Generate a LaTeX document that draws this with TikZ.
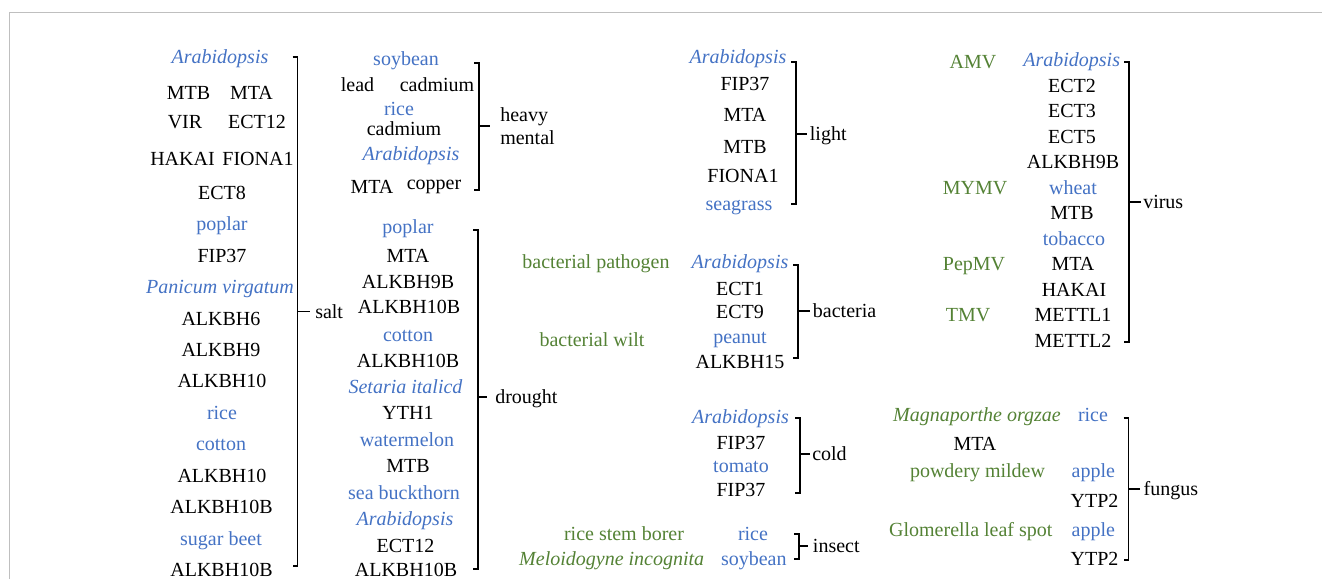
\documentclass[tikz,border=0pt]{standalone}
\usepackage{fontspec}
\setmainfont{Liberation Serif}
\newfontfamily\figserif{Liberation Serif}
\usepackage{tikz}
\definecolor{plantblue}{RGB}{68,114,196}
\definecolor{pathgreen}{RGB}{84,130,53}
\definecolor{framegray}{RGB}{191,191,191}

\begin{document}
\begin{tikzpicture}[x=0.75pt,y=-0.75pt,
    txt/.style={inner sep=0pt,font=\figserif\fontsize{15}{18}\selectfont},
    gene/.style={txt,text height=9.9pt,text depth=0pt},
    plant/.style={gene,text=plantblue},
    plantit/.style={plant,font=\figserif\fontsize{15}{18}\selectfont\itshape},
    pathogen/.style={gene,text=pathgreen},
    pathogenit/.style={pathogen,font=\figserif\fontsize{15}{18}\selectfont\itshape},
    stress/.style={gene,anchor=west,inner xsep=2pt},
    brk/.style={line width=1.4pt}]

    \useasboundingbox (0,0) rectangle (1322,579);
    \draw[framegray,line width=0.75pt] (9.5,579) |- (1322,12.5);

% salt
\node[plantit] (s1) at (220,57) {Arabidopsis};
\node[gene] (s2) at (188.5,93) {MTB};
\node[gene] (s3) at (251.5,93) {MTA};
\node[gene] (s4) at (185,122) {VIR};
\node[gene] (s5) at (257,122) {ECT12};
\node[gene] (s6) at (182.5,159) {HAKAI};
\node[gene] (s7) at (258,159) {FIONA1};
\node[gene] (s8) at (222,192.5) {ECT8};
\node[plant] (s9) at (222,223.5) {poplar};
\node[gene] (s10) at (222,256) {FIP37};
\node[plantit] (s11) at (220,287) {Panicum virgatum};
\node[gene] (s12) at (221,319) {ALKBH6};
\node[gene] (s13) at (221,350) {ALKBH9};
\node[gene] (s14) at (222,381) {ALKBH10};
\node[plant] (s15) at (222,413) {rice};
\node[plant] (s16) at (221,444) {cotton};
\node[gene] (s17) at (222,475.5) {ALKBH10};
\node[gene] (s18) at (221.5,507) {ALKBH10B};
\node[plant] (s19) at (221,538.5) {sugar beet};
\node[gene] (s20) at (221.5,569.5) {ALKBH10B};

\coordinate (salt-t) at (297.5,57);
\coordinate (salt-b) at (297.5,566);
\node[stress,inner xsep=3.75pt] (salt) at (310,311.5) {salt};
\draw[brk] ([xshift=-3.75pt]salt-t) -- (salt-t) -- (salt-b) -- ([xshift=-3.75pt]salt-b);
\draw[brk] (salt-t |- salt.west) -- (salt.west);

% heavy metal
\node[plant] (h1) at (406,58.5) {soybean};
\node[gene] (h2) at (357.5,85) {lead};
\node[gene] (h3) at (437,85) {cadmium};
\node[plant] (h4) at (399,108.5) {rice};
\node[gene] (h5) at (404,128.5) {cadmium};
\node[plantit] (h6) at (411,153.5) {Arabidopsis};
\node[gene] (h7) at (372,186.5) {MTA};
\node[gene] (h8) at (434,182.7) {copper};

\coordinate (metal-t) at (479,63);
\coordinate (metal-b) at (479,190);
\node[txt,anchor=west,inner xsep=7.5pt,align=left,font=\figserif\fontsize{15}{17.25}\selectfont] (metal) at (490,126) {heavy\\mental};
\draw[brk] ([xshift=-3.75pt]metal-t) -- (metal-t) -- (metal-b) -- ([xshift=-3.75pt]metal-b);
\draw[brk] (metal-t |- metal.west) -- (metal.west);

% drought
\node[plant] (d1) at (408,227) {poplar};
\node[gene] (d2) at (408,256) {MTA};
\node[gene] (d3) at (408,282) {ALKBH9B};
\node[gene] (d4) at (409,307) {ALKBH10B};
\node[plant] (d5) at (408,335) {cotton};
\node[gene] (d6) at (408,361) {ALKBH10B};
\node[plantit] (d7) at (405.5,387) {Setaria italicd};
\node[gene] (d8) at (408,413) {YTH1};
\node[plant] (d9) at (407,440) {watermelon};
\node[gene] (d10) at (408,466) {MTB};
\node[plant] (d11) at (404,493) {sea buckthorn};
\node[plantit] (d12) at (405,519) {Arabidopsis};
\node[gene] (d13) at (405.5,546) {ECT12};
\node[gene] (d14) at (406,570) {ALKBH10B};

\coordinate (drought-t) at (478,230);
\coordinate (drought-b) at (478,569);
\node[stress,inner xsep=6pt] (drought) at (487,397) {drought};
\draw[brk] ([xshift=-3.75pt]drought-t) -- (drought-t) -- (drought-b) -- ([xshift=-3.75pt]drought-b);
\draw[brk] (drought-t |- drought.west) -- (drought.west);

% light
\node[plantit] (l1) at (738,57) {Arabidopsis};
\node[gene] (l2) at (745,84) {FIP37};
\node[gene] (l3) at (745,115) {MTA};
\node[gene] (l4) at (745,147) {MTB};
\node[gene] (l5) at (743,176) {FIONA1};
\node[plant] (l6) at (739,203.5) {seagrass};

\coordinate (light-t) at (796,62);
\coordinate (light-b) at (796,204);
\node[stress] (light) at (807,134) {light};
\draw[brk] ([xshift=-3.75pt]light-t) -- (light-t) -- (light-b) -- ([xshift=-3.75pt]light-b);
\draw[brk] (light-t |- light.west) -- (light.west);

% bacteria
\node[pathogen] (b0) at (596,262) {bacterial pathogen};
\node[plantit] (b1) at (740,262) {Arabidopsis};
\node[gene] (b2) at (740,289) {ECT1};
\node[gene] (b3) at (740,312) {ECT9};
\node[pathogen] (b4) at (592,340) {bacterial wilt};
\node[plant] (b5) at (740,337) {peanut};
\node[gene] (b6) at (740,362) {ALKBH15};

\coordinate (bact-t) at (798,265);
\coordinate (bact-b) at (798,358);
\node[stress] (bact) at (810,311) {bacteria};
\draw[brk] ([xshift=-3.75pt]bact-t) -- (bact-t) -- (bact-b) -- ([xshift=-3.75pt]bact-b);
\draw[brk] (bact-t |- bact.west) -- (bact.west);

% cold
\node[plantit] (c1) at (740.5,417) {Arabidopsis};
\node[gene] (c2) at (741,443) {FIP37};
\node[plant] (c3) at (741,465.5) {tomato};
\node[gene] (c4) at (741,490) {FIP37};

\coordinate (cold-t) at (800,418);
\coordinate (cold-b) at (800,493);
\node[stress,inner xsep=1.5pt] (cold) at (810,454) {cold};
\draw[brk] ([xshift=-3.75pt]cold-t) -- (cold-t) -- (cold-b) -- ([xshift=-3.75pt]cold-b);
\draw[brk] (cold-t |- cold.west) -- (cold.west);

% insect
\node[pathogen] (i1) at (624,533.5) {rice stem borer};
\node[plant] (i2) at (753,533.5) {rice};
\node[pathogenit] (i3) at (611.7,558.5) {Meloidogyne incognita};
\node[plant] (i4) at (753.8,558.5) {soybean};

\coordinate (insect-t) at (799,534);
\coordinate (insect-b) at (799,559);
\node[stress,inner xsep=3.5pt] (insect) at (808,546) {insect};
\draw[brk] ([xshift=-3.75pt]insect-t) -- (insect-t) -- (insect-b) -- ([xshift=-3.75pt]insect-b);
\draw[brk] (insect-t |- insect.west) -- (insect.west);

% virus
\node[pathogen] (v0) at (973,62) {AMV};
\node[plantit] (v1) at (1071.7,59.5) {Arabidopsis};
\node[gene] (v2) at (1072,85.5) {ECT2};
\node[gene] (v3) at (1072,111) {ECT3};
\node[gene] (v4) at (1072,137) {ECT5};
\node[gene] (v5) at (1073,162) {ALKBH9B};
\node[pathogen] (v6) at (975,187.5) {MYMV};
\node[plant] (v7) at (1073,188) {wheat};
\node[gene] (v8) at (1072,213) {MTB};
\node[plant] (v9) at (1074,238.5) {tobacco};
\node[pathogen] (v10) at (974,263.5) {PepMV};
\node[gene] (v11) at (1073,263.5) {MTA};
\node[gene] (v12) at (1074,289.5) {HAKAI};
\node[pathogen] (v13) at (968,315) {TMV};
\node[gene] (v14) at (1073,315) {METTL1};
\node[gene] (v15) at (1073,341) {METTL2};

\coordinate (virus-t) at (1129,62);
\coordinate (virus-b) at (1129,342);
\node[stress,inner xsep=1.5pt] (virus) at (1141,202) {virus};
\draw[brk] ([xshift=-3.75pt]virus-t) -- (virus-t) -- (virus-b) -- ([xshift=-3.75pt]virus-b);
\draw[brk] (virus-t |- virus.west) -- (virus.west);

% fungus
\node[pathogenit] (f1) at (977,415) {Magnaporthe orgzae};
\node[plant] (f2) at (1093,415) {rice};
\node[gene] (f3) at (975,443.5) {MTA};
\node[pathogen] (f4) at (977.5,470.5) {powdery mildew};
\node[plant] (f5) at (1093.3,470.5) {apple};
\node[gene] (f6) at (1094.5,500.5) {YTP2};
\node[pathogen] (f7) at (970.8,530) {Glomerella leaf spot};
\node[plant] (f8) at (1093.3,530) {apple};
\node[gene] (f9) at (1094.5,559) {YTP2};

\coordinate (fungus-t) at (1128.5,418);
\coordinate (fungus-b) at (1128.5,560);
\node[stress,inner xsep=2.5pt] (fungus) at (1140,489) {fungus};
\draw[brk] ([xshift=-3.75pt]fungus-t) -- (fungus-t) -- (fungus-b) -- ([xshift=-3.75pt]fungus-b);
\draw[brk] (fungus-t |- fungus.west) -- (fungus.west);

\end{tikzpicture}
\end{document}
